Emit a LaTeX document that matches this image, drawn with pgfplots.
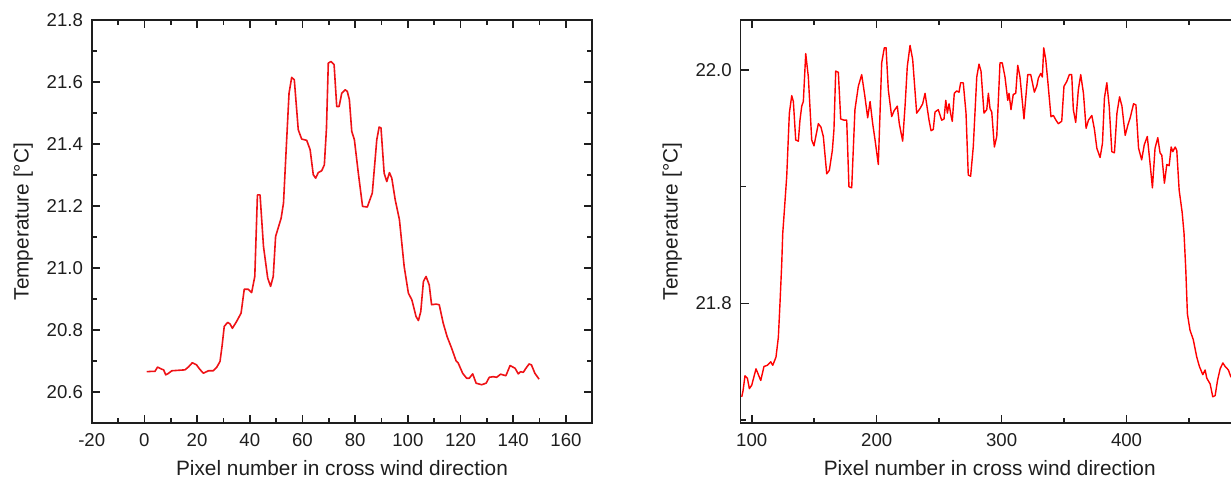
\documentclass[border=0pt]{standalone}
\usepackage{fontspec}
\setmainfont{Liberation Sans}
\usepackage{pgfplots}
\pgfplotsset{compat=1.18}
\definecolor{linered}{RGB}{238,18,22}
\definecolor{axisgray}{RGB}{30,30,30}
\pgfplotsset{
 myaxis/.style={
  scale only axis, height=201.6pt,
  axis line style={line width=0.9pt, axisgray},
  tick style={axisgray, line width=0.8pt},
  major tick length=4pt, minor tick length=2.5pt,
  tick align=inside,
  /pgf/number format/assume math mode=true,
  every tick label/.append style={font=\fontsize{9.3}{10}\selectfont, text=axisgray},
  label style={font=\fontsize{10.4}{12}\selectfont, text=axisgray},
  xlabel={Pixel number in cross wind direction},
  ylabel={Temperature [°C]},
  xlabel style={at={(axis description cs:0.5,0)}, anchor=base, inner sep=0pt, yshift=-26.4pt},
  ylabel style={at={(axis description cs:-0.126,0.5)}, anchor=base, inner sep=0pt},
  xticklabel style={anchor=base, inner sep=0pt, yshift=-11.7pt},
  yticklabel style={anchor=east, inner sep=0pt, xshift=-4.2pt,
    /pgf/number format/.cd, fixed, fixed zerofill, precision=1},
 }
}
\begin{document}
\begin{tikzpicture}
\path[use as bounding box] (0,0) rectangle (615.5pt,240pt);
\begin{axis}[myaxis, at={(45.85pt,28.4pt)}, anchor=south west, width=250.3pt,
  xmin=-20, xmax=170, ymin=20.5, ymax=21.8,
  xtick={-20,0,20,40,60,80,100,120,140,160},
  minor xtick={-10,10,30,50,70,90,110,130,150,170},
  ytick={20.6,20.8,21.0,21.2,21.4,21.6,21.8},
  minor ytick={20.5,20.7,20.9,21.1,21.3,21.5,21.7}]
\addplot[linered, line width=0.8pt, line join=round, mark=none] coordinates {
(0.9,20.666) (2.5,20.667) (4.0,20.667) (5.0,20.681) (6.6,20.674) (7.3,20.672)
(8.1,20.656) (9.0,20.660) (10.4,20.669) (12,20.670) (15.4,20.672) (16.8,20.682)
(18.2,20.695) (19.8,20.688) (21,20.674) (22.4,20.661) (24.3,20.669) (26.1,20.669)
(27.5,20.681) (28.7,20.699) (29.5,20.750) (30.3,20.812) (31.6,20.825) (32.5,20.820)
(33.4,20.806) (35.0,20.828) (36.7,20.855) (37.9,20.932) (39.4,20.932) (40.7,20.921)
(41.9,20.973) (42.9,21.236) (43.9,21.236) (45.2,21.070) (46.8,20.968) (47.9,20.941)
(48.9,20.973) (49.8,21.102) (51.9,21.161) (52.8,21.210) (54.0,21.414) (54.9,21.564)
(55.9,21.615) (56.9,21.607) (58.4,21.446) (59.7,21.416) (61.6,21.412) (62.9,21.382)
(64.1,21.301) (65.0,21.290) (66.0,21.308) (67.3,21.314) (68.3,21.333) (69.1,21.45)
(69.8,21.661) (70.8,21.666) (72.0,21.656) (73.0,21.521) (73.9,21.521) (74.9,21.564)
(76.2,21.575) (77.0,21.570) (77.8,21.543) (78.7,21.441) (79.7,21.414) (81.2,21.306)
(82.8,21.199) (84.6,21.197) (86.5,21.242) (88.2,21.414) (89.1,21.455) (89.8,21.452)
(91.0,21.306) (92.0,21.279) (93.0,21.308) (93.9,21.290) (95.2,21.220) (96.8,21.156)
(98.6,21.005) (100.2,20.919) (101.5,20.898) (103.1,20.844) (104.0,20.831) (104.9,20.860)
(105.9,20.957) (106.9,20.973) (108.1,20.946) (109.0,20.882) (110.7,20.884) (111.9,20.882)
(113.4,20.823) (114.9,20.779) (116.6,20.742) (118.3,20.701) (119.1,20.694) (120.8,20.661)
(122.3,20.645) (123.3,20.645) (124.6,20.659) (125.9,20.629) (128.0,20.624) (129.7,20.629)
(130.9,20.648) (132.4,20.650) (133.7,20.648) (135.2,20.658) (137.2,20.653) (138.8,20.686)
(140.7,20.677) (141.9,20.659) (142.8,20.666) (143.8,20.664) (144.8,20.677) (146.0,20.691)
(146.9,20.688) (148.2,20.661) (149.8,20.642)
};
\end{axis}
\begin{axis}[myaxis, at={(370.25pt,28.4pt)}, anchor=south west, width=249.25pt,
  xmin=91, xmax=490, ymin=21.6974, ymax=22.0428,
  xtick={100,200,300,400}, minor xtick={150,250,350,450},
  ytick={21.8,22.0}, minor ytick={21.7,21.9}]
\addplot[red, line width=0.7pt, line join=round, mark=none] coordinates {
(92.0,21.720) (93.0,21.725) (94.6,21.738) (96.5,21.736) (98.1,21.727) (100.0,21.730)
(103.4,21.744) (105.3,21.739) (107.2,21.734) (109.8,21.746) (112.5,21.747) (115.2,21.750)
(116.8,21.747) (119.4,21.754) (121.3,21.771) (122.6,21.800) (124.0,21.834) (124.8,21.860)
(126.0,21.878) (128.0,21.909) (130.1,21.963) (132.0,21.978) (133.3,21.973) (135.2,21.940)
(137.3,21.939) (138.6,21.957) (140.0,21.969) (141.3,21.973) (143.2,22.014) (145.3,21.994)
(148.0,21.940) (149.8,21.935) (153.3,21.954) (155.4,21.951) (157.3,21.943) (160.0,21.911)
(162.1,21.914) (164.5,21.931) (165.8,21.949) (167.2,21.999) (169.3,21.998) (171.2,21.958)
(173.8,21.957) (176.0,21.957) (177.8,21.900) (180.0,21.899) (182.6,21.966) (185.3,21.986)
(188.0,21.996) (190.6,21.977) (192.8,21.959) (194.7,21.973) (196.8,21.954) (198.7,21.940)
(201.3,21.919) (204.0,22.006) (206.1,22.019) (207.5,22.019) (209.3,21.983) (212.0,21.960)
(213.9,21.965) (216.5,21.969) (218.1,21.954) (220.8,21.939) (222.7,21.969) (224.5,22.003)
(226.7,22.021) (228.8,22.009) (232.0,21.963) (234.7,21.967) (236.8,21.971) (238.7,21.980)
(240.5,21.967) (241.9,21.957) (243.5,21.948) (245.3,21.949) (246.7,21.964) (249.3,21.966)
(252.0,21.957) (253.9,21.958) (255.3,21.974) (256.6,21.963) (257.9,21.971) (259.3,21.962)
(260.5,21.956) (262.1,21.980) (264.0,21.982) (265.9,21.981) (267.2,21.989) (269.3,21.989)
(271.5,21.963) (273.3,21.910) (275.2,21.909) (277.3,21.934) (280.1,21.994) (281.9,22.005)
(283.5,21.999) (285.9,21.963) (288.1,21.966) (289.4,21.980) (290.7,21.967) (292.1,21.964)
(294.2,21.934) (296.1,21.943) (298.7,22.006) (300.5,22.006) (302.7,21.994) (304.9,21.974)
(305.9,21.980) (307.5,21.966) (309.3,21.979) (311.3,21.980) (312.9,22.004) (314.7,21.994)
(317.9,21.958) (320.9,21.996) (323.3,21.996) (326.2,21.981) (328.1,21.986) (329.4,21.993)
(331.3,21.997) (332.6,21.994) (333.7,22.019) (335.3,22.009) (336.9,21.991) (339.5,21.960)
(341.4,21.961) (343.5,21.957) (345.4,21.954) (348.1,21.956) (349.9,21.986) (352.1,21.990)
(354.2,21.996) (356.1,21.996) (357.4,21.966) (359.3,21.955) (361.4,21.983) (363.3,21.996)
(365.5,21.980) (367.6,21.950) (369.5,21.957) (372.2,21.961) (374.3,21.949) (376.2,21.933)
(378.8,21.925) (380.7,21.937) (382.3,21.976) (384.2,21.989) (386.1,21.969) (388.2,21.930)
(390.3,21.929) (392.3,21.963) (394.4,21.977) (396.3,21.969) (398.9,21.944) (401.1,21.953)
(402.9,21.959) (405.6,21.971) (407.5,21.970) (409.6,21.933) (412.1,21.923) (414.2,21.936)
(416.6,21.943) (418.8,21.920) (420.7,21.899) (422.8,21.933) (425.0,21.942) (426.8,21.929)
(428.2,21.927) (430.3,21.903) (432.2,21.919) (434.1,21.918) (435.7,21.934) (437.0,21.930)
(438.9,21.934) (440.2,21.931) (442.1,21.897) (444.5,21.878) (446.0,21.860) (447.4,21.829)
(448.7,21.791) (450.8,21.777) (453.4,21.769) (456.2,21.754) (458.3,21.746) (461.0,21.739)
(462.9,21.743) (464.2,21.736) (466.9,21.731) (469.0,21.720) (470.9,21.721) (472.8,21.734)
(474.9,21.744) (477.1,21.749) (478.9,21.746) (481.5,21.743) (483.5,21.737) (487,21.738)
(490,21.740)
};
\end{axis}
\end{tikzpicture}
\end{document}
